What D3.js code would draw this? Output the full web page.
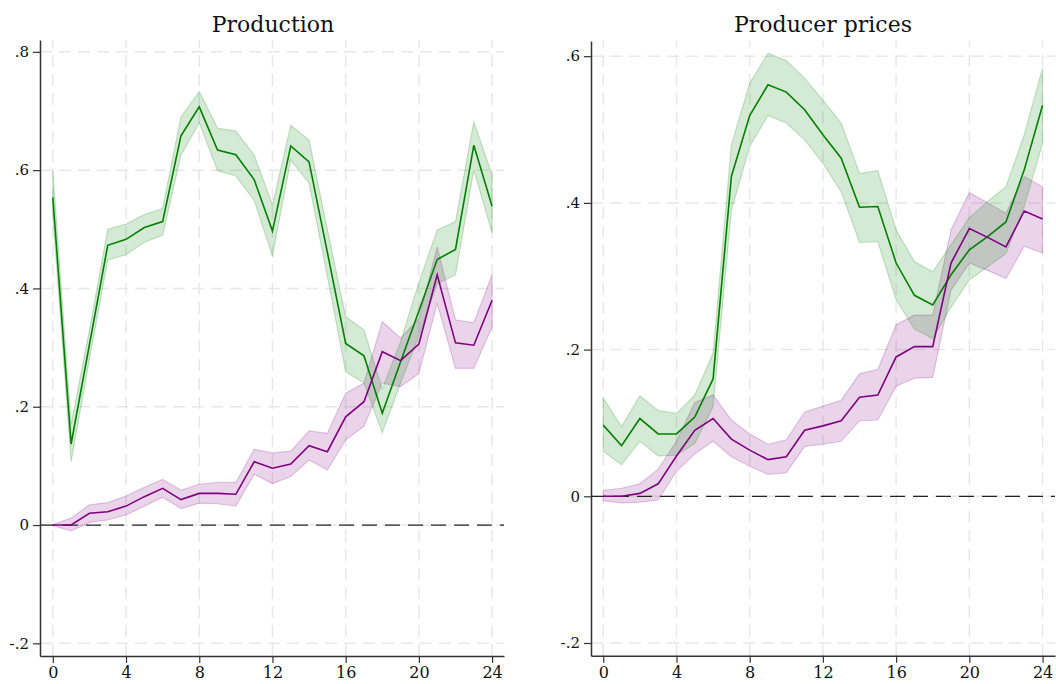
<!DOCTYPE html>
<html><head><meta charset="utf-8">
<script src="https://cdn.jsdelivr.net/npm/d3@7"></script>
<style>
body{margin:0;background:#fff;}
svg{display:block;}
text{font-family:"DejaVu Serif",serif;fill:#111;}
</style></head>
<body>
<svg id="chart" width="1056" height="684"></svg>
<script>
const months = d3.range(0, 25);
const xTicks = [0,4,8,12,16,20,24];

// Production
const prodGreen   = [0.554,0.137,0.305,0.473,0.483,0.503,0.513,0.658,0.707,0.634,0.626,0.584,0.497,0.641,0.614,0.461,0.307,0.286,0.189,0.276,0.362,0.449,0.466,0.642,0.539];
const prodGreenLo = [0.525,0.107,0.280,0.448,0.457,0.478,0.490,0.625,0.680,0.599,0.590,0.549,0.455,0.617,0.578,0.420,0.259,0.240,0.156,0.240,0.320,0.408,0.423,0.600,0.494];
const prodGreenHi = [0.600,0.170,0.330,0.500,0.509,0.525,0.535,0.690,0.733,0.671,0.666,0.626,0.541,0.676,0.651,0.500,0.352,0.330,0.230,0.310,0.410,0.499,0.513,0.682,0.592];
const prodPurple   = [0.000,0.000,0.020,0.0225,0.032,0.048,0.062,0.043,0.0535,0.0535,0.052,0.107,0.096,0.103,0.134,0.124,0.183,0.2085,0.293,0.278,0.306,0.423,0.308,0.304,0.380];
const prodPurpleLo = [-0.001,-0.010,0.0045,0.0085,0.017,0.032,0.047,0.028,0.037,0.036,0.032,0.086,0.070,0.082,0.110,0.093,0.144,0.167,0.240,0.234,0.256,0.375,0.265,0.265,0.335];
const prodPurpleHi = [0.001,0.012,0.034,0.038,0.049,0.064,0.077,0.059,0.069,0.072,0.072,0.128,0.122,0.125,0.159,0.155,0.223,0.240,0.344,0.316,0.349,0.470,0.347,0.342,0.423];
const prodYTicks = [-0.2,0,0.2,0.4,0.6,0.8];
const prodYLabels = ["-.2","0",".2",".4",".6",".8"];

// Producer prices
const ppiGreen   = [0.097,0.069,0.106,0.085,0.085,0.108,0.160,0.436,0.519,0.561,0.551,0.527,0.493,0.461,0.394,0.395,0.318,0.274,0.261,0.302,0.336,0.354,0.374,0.445,0.533];
const ppiGreenLo = [0.061,0.043,0.075,0.055,0.056,0.072,0.122,0.390,0.477,0.519,0.509,0.486,0.454,0.415,0.346,0.347,0.268,0.228,0.215,0.258,0.295,0.313,0.331,0.395,0.481];
const ppiGreenHi = [0.134,0.095,0.137,0.117,0.113,0.138,0.195,0.479,0.563,0.604,0.594,0.570,0.540,0.509,0.440,0.444,0.363,0.320,0.306,0.343,0.380,0.402,0.422,0.493,0.584];
const ppiPurple   = [0.000,0.000,0.004,0.017,0.055,0.090,0.106,0.078,0.063,0.050,0.054,0.090,0.096,0.103,0.135,0.138,0.190,0.204,0.204,0.318,0.365,0.353,0.340,0.389,0.378];
const ppiPurpleLo = [-0.006,-0.009,-0.008,-0.005,0.034,0.058,0.075,0.054,0.041,0.030,0.032,0.068,0.071,0.075,0.103,0.104,0.150,0.161,0.162,0.281,0.318,0.308,0.297,0.341,0.332];
const ppiPurpleHi = [0.008,0.011,0.017,0.037,0.075,0.128,0.138,0.104,0.085,0.071,0.077,0.115,0.123,0.131,0.167,0.173,0.234,0.247,0.247,0.363,0.414,0.400,0.386,0.436,0.422];
const ppiYTicks = [-0.2,0,0.2,0.4,0.6];
const ppiYLabels = ["-.2","0",".2",".4",".6"];

const GREEN = "#008000", PURPLE = "#800080";
const svg = d3.select("#chart");

function panel(cfg){
  const x = d3.scaleLinear().domain(cfg.xDomain).range(cfg.xRange);
  const y = d3.scaleLinear().domain(cfg.yDomain).range(cfg.yRange);
  const g = svg.append("g");
  const [x0, x1] = cfg.xRange, [yb, yt] = cfg.yRange;

  // grid
  g.append("g").selectAll("line").data(cfg.yTicks).join("line")
    .attr("x1", x0).attr("x2", x1).attr("y1", d => y(d)).attr("y2", d => y(d))
    .attr("stroke", "#e8e8e8").attr("stroke-width", 1.5).attr("stroke-dasharray", "12,7");
  g.append("g").selectAll("line").data(xTicks).join("line")
    .attr("x1", d => x(d)).attr("x2", d => x(d)).attr("y1", yb).attr("y2", yt)
    .attr("stroke", "#e8e8e8").attr("stroke-width", 1.5).attr("stroke-dasharray", "12,7");

  // bands
  function band(lo, hi, color){
    const area = d3.area().x((d,i) => x(months[i])).y0((d,i) => y(lo[i])).y1((d,i) => y(hi[i]));
    g.append("path").datum(lo).attr("d", area)
      .attr("fill", color).attr("fill-opacity", 0.17)
      .attr("stroke", color).attr("stroke-opacity", 0.2).attr("stroke-width", 1.2);
  }
  band(cfg.pLo, cfg.pHi, PURPLE);
  band(cfg.gLo, cfg.gHi, GREEN);

  // zero line
  g.append("line").attr("x1", x0).attr("x2", x1).attr("y1", y(0)).attr("y2", y(0))
    .attr("stroke", "#222").attr("stroke-width", 1.3).attr("stroke-dasharray", "15,8");

  // lines
  const line = d3.line().x((d,i) => x(months[i])).y(d => y(d));
  g.append("path").datum(cfg.g).attr("d", line).attr("fill", "none").attr("stroke", GREEN).attr("stroke-width", 1.6);
  g.append("path").datum(cfg.p).attr("d", line).attr("fill", "none").attr("stroke", PURPLE).attr("stroke-width", 1.6);

  // axes
  const ax = g.append("g").attr("transform", `translate(0,${yb})`)
    .call(d3.axisBottom(x).tickValues(xTicks).tickSize(7).tickSizeOuter(0).tickPadding(4).tickFormat(d3.format("d")));
  const ay = g.append("g").attr("transform", `translate(${x0},0)`)
    .call(d3.axisLeft(y).tickValues(cfg.yTicks).tickSize(7).tickSizeOuter(0).tickPadding(4)
      .tickFormat((d,i) => cfg.yLabels[i]));
  [ax, ay].forEach(a => {
    a.select(".domain").attr("stroke", "#333").attr("stroke-width", 1.5);
    a.selectAll(".tick line").attr("stroke", "#333").attr("stroke-width", 1.2);
    a.selectAll(".tick text").attr("font-family", "DejaVu Serif").attr("fill", "#111");
  });
  ax.selectAll(".tick text").attr("font-size", 16);
  ay.selectAll(".tick text").attr("font-size", 15);

  g.append("text").attr("x", cfg.titleX).attr("y", 32).attr("text-anchor", "middle")
    .attr("font-size", 22).text(cfg.title);
}

panel({
  title: "Production", titleX: 273,
  xDomain: [-0.7, 24.65], xRange: [40, 504],
  yDomain: [-0.2214, 0.82], yRange: [656, 40],
  yTicks: prodYTicks, yLabels: prodYLabels,
  g: prodGreen, gLo: prodGreenLo, gHi: prodGreenHi,
  p: prodPurple, pLo: prodPurpleLo, pHi: prodPurpleHi
});
panel({
  title: "Producer prices", titleX: 823,
  xDomain: [-0.67, 24.68], xRange: [591, 1055],
  yDomain: [-0.2173, 0.6207], yRange: [655.7, 41],
  yTicks: ppiYTicks, yLabels: ppiYLabels,
  g: ppiGreen, gLo: ppiGreenLo, gHi: ppiGreenHi,
  p: ppiPurple, pLo: ppiPurpleLo, pHi: ppiPurpleHi
});
</script>
</body></html>
